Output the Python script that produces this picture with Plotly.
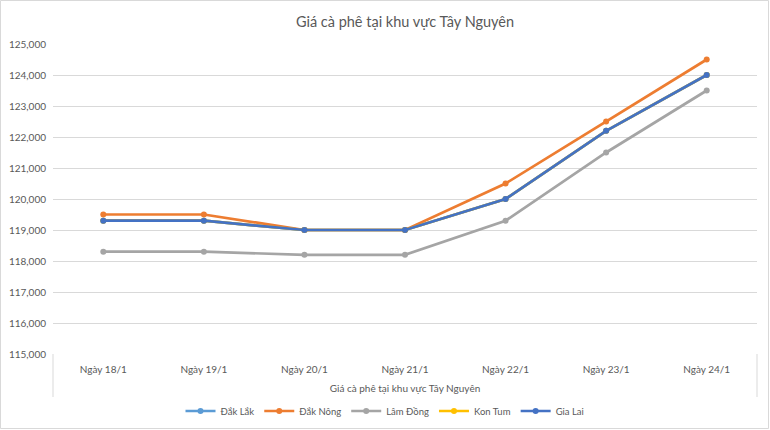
import plotly.graph_objects as go

categories = ["Ngày 18/1", "Ngày 19/1", "Ngày 20/1", "Ngày 21/1", "Ngày 22/1", "Ngày 23/1", "Ngày 24/1"]
dak_lak = [119300, 119300, 119000, 119000, 120000, 122200, 124000]
dak_nong = [119500, 119500, 119000, 119000, 120500, 122500, 124500]
lam_dong = [118300, 118300, 118200, 118200, 119300, 121500, 123500]
kon_tum = [119300, 119300, 119000, 119000, 120000, 122200, 124000]
gia_lai = [119300, 119300, 119000, 119000, 120000, 122200, 124000]

series = [
    ("Đắk Lắk", dak_lak, "#5B9BD5"),
    ("Đắk Nông", dak_nong, "#ED7D31"),
    ("Lâm Đồng", lam_dong, "#A5A5A5"),
    ("Kon Tum", kon_tum, "#FFC000"),
    ("Gia Lai", gia_lai, "#4472C4"),
]

FONT = "Lato, Carlito, 'Open Sans', sans-serif"

fig = go.Figure()
for name, vals, col in series:
    fig.add_trace(go.Scatter(
        x=categories, y=vals, name=name, mode="lines+markers",
        line=dict(color=col, width=2.7),
        marker=dict(color=col, size=6),
    ))

W, H = 770, 430
L, R, T, B = 53, 13, 44, 76
pw = W - L - R
ph = H - T - B

def px(x):
    return (x - L) / pw

def py(y):
    return (H - B - y) / ph

shapes = [
    dict(type="line", xref="paper", yref="paper", x0=0, x1=0, y0=0, y1=py(397),
         line=dict(color="#D9D9D9", width=1)),
    dict(type="line", xref="paper", yref="paper", x0=1, x1=1, y0=0, y1=py(397),
         line=dict(color="#D9D9D9", width=1)),
    dict(type="rect", xref="paper", yref="paper", x0=px(0.5), x1=px(768.5), y0=py(428.5), y1=py(0.5),
         line=dict(color="#D9D9D9", width=1), layer="below"),
]

fig.update_layout(
    width=W, height=H,
    margin=dict(l=L, r=R, t=T, b=B, autoexpand=False),
    paper_bgcolor="white", plot_bgcolor="white",
    font=dict(family=FONT, size=10, color="#595959"),
    title=dict(text="Giá cà phê tại khu vực Tây Nguyên", x=0.5, xref="paper", xanchor="center",
               y=1 - 22 / H, yanchor="middle",
               font=dict(family=FONT, size=14.5, color="#595959")),
    xaxis=dict(
        type="category", range=[-0.5, 6.5], showgrid=False, showline=False, zeroline=False,
        ticks="", tickfont=dict(size=10, color="#595959"), automargin=False,
        ticklabelstandoff=8,
        title=dict(text="Giá cà phê tại khu vực Tây Nguyên", font=dict(size=10, color="#595959"), standoff=10),
    ),
    yaxis=dict(
        range=[115000, 125000], dtick=1000, tickformat=",d", showgrid=True, automargin=False,
        gridcolor="#D9D9D9", gridwidth=1, zeroline=False, showline=False, ticks="",
        tickfont=dict(size=10, color="#595959"), ticklabelstandoff=6,
    ),
    legend=dict(orientation="h", x=0.5 - (L + pw / 2 - 385) / pw, xanchor="center",
                y=py(411), yanchor="middle", font=dict(size=9.5, color="#595959"),
                itemwidth=30, traceorder="normal"),
    shapes=shapes,
    showlegend=True,
)

fig.write_html("out.html", config={"displayModeBar": False},
               post_script="document.body.style.margin='0';")
